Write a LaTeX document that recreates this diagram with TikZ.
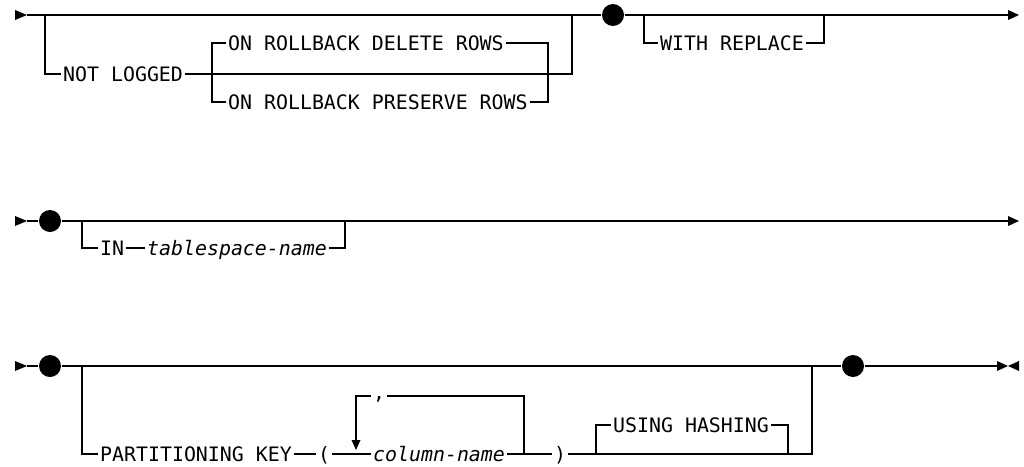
\documentclass[tikz,border=0pt]{standalone}
\usepackage{fontspec}
\newfontfamily\kwfont{DejaVu Sans Mono}
\begin{document}
\begin{tikzpicture}[x=1pt,y=-1pt, line width=1.3pt,
  kw/.style={font=\kwfont\fontsize{19.9}{22}\selectfont, inner xsep=1.5pt, inner ysep=0pt, anchor=west, text height=14.5pt, text depth=0pt},
  var/.style={kw, font=\kwfont\itshape\fontsize{19.9}{22}\selectfont},
  dot/.style={circle, fill=black, draw=none, inner sep=0pt, minimum size=22pt},
  tip/.style={fill=black, draw=none}]
\useasboundingbox (0,0) rectangle (1024,466);

% ---------- Row 1 ----------
\coordinate (s1) at (27,15);
\coordinate (e1) at (1008,15);
\fill[tip] (s1) -- ++(-12,-5) -- ++(0,10) -- cycle;
\fill[tip] (e1) -- ++(0,-5) -- ++(11,5) -- ++(-11,5) -- cycle;
\node[dot] (d1) at (613,15) {};
\draw (s1) -- (d1) -- (e1);

\coordinate (b1) at (45,15);
\node[kw] (nl) at (61,74) {NOT LOGGED};
\draw (b1) |- (nl.west);
\coordinate (r1) at (572,15);
\draw (nl.east) -| (r1);
\node[kw] (del) at (226,43) {ON ROLLBACK DELETE ROWS};
\node[kw] (pre) at (226,102) {ON ROLLBACK PRESERVE ROWS};
\coordinate (j1t) at (212,43);
\coordinate (j1b) at (212,102);
\draw (del.west) -- (j1t) -- (j1b) -- (pre.west);
\coordinate (k1) at (548,43);
\draw (del.east) -- (k1) |- (pre.east);

\coordinate (b2) at (644,15);
\node[kw] (wr) at (658,43) {WITH REPLACE};
\draw (b2) |- (wr.west);
\coordinate (r2) at (824,15);
\draw (wr.east) -| (r2);

% ---------- Row 2 ----------
\coordinate (s2) at (27,221);
\coordinate (e2) at (1008,221);
\fill[tip] (s2) -- ++(-12,-5) -- ++(0,10) -- cycle;
\fill[tip] (e2) -- ++(0,-5) -- ++(11,5) -- ++(-11,5) -- cycle;
\node[dot] (d2) at (50,221) {};
\draw (s2) -- (d2) -- (e2);

\coordinate (b3) at (82,221);
\node[kw] (in) at (98,248) {IN};
\draw (b3) |- (in.west);
\node[var] (ts) at (145,248) {tablespace-name};
\draw (in.east) -- (ts.west);
\coordinate (r3) at (345,221);
\draw (ts.east) -| (r3);

% ---------- Row 3 ----------
\coordinate (s3) at (27,366);
\coordinate (e3) at (1008,366);
\fill[tip] (s3) -- ++(-12,-5) -- ++(0,10) -- cycle;
\fill[tip] (e3) -- ++(-11,-5) -- ++(0,10) -- cycle;
\fill[tip] (e3) -- ++(11,-5) -- ++(0,10) -- cycle;
\node[dot] (d3) at (50,366) {};
\node[dot] (d4) at (853,366) {};
\coordinate (e3b) at (997,366);
\draw (s3) -- (d3) -- (d4) -- (e3b);

\coordinate (b4) at (82,366);
\node[kw] (pk) at (98,454) {PARTITIONING KEY};
\draw (b4) |- (pk.west);
\node[kw] (lp) at (316,454) {(};
\draw (pk.east) -- (lp.west);
\node[var] (cn) at (371,454) {column-name};
\draw (lp.east) -- (cn.west);
\coordinate (k2) at (524,454);
\node[kw] (rp) at (552,454) {)};
\draw (cn.east) -- (k2) -- (rp.west);
\coordinate (j3) at (596,454);
\coordinate (k3) at (788,454);
\coordinate (r4) at (812,366);
\draw (rp.east) -- (j3) -- (k3) -| (r4);
\node[kw] (uh) at (611,425) {USING HASHING};
\draw (j3) |- (uh.west);
\draw (uh.east) -| (k3);

% repeat loop
\node[anchor=north, inner sep=0pt, minimum width=15pt, font=\kwfont\fontsize{19.9}{22}\selectfont] (cm) at (379,396) {,};
\coordinate (at) at (356,440);
\draw (k2) |- (cm.north east);
\draw (cm.north west) -| (at);
\fill[tip] (at) -- ++(-4.5,0) -- ++(4.5,10) -- ++(4.5,-10) -- cycle;
\end{tikzpicture}
\end{document}
